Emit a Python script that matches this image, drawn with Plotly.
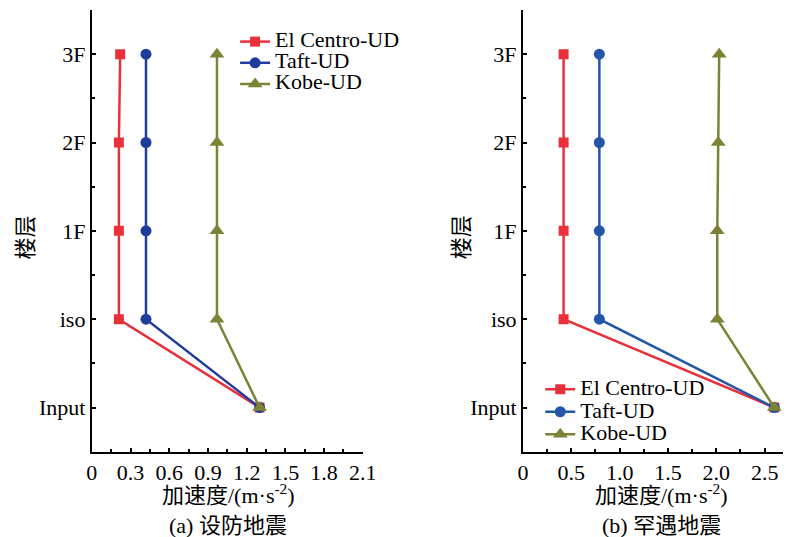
import plotly.graph_objects as go

floors = ["Input", "iso", "1F", "2F", "3F"]
floor_pos = [0, 1, 2, 3, 4]

series_names = ["El Centro-UD", "Taft-UD", "Kobe-UD"]

# (a) design-basis earthquake
a_elcentro = [1.30, 0.21, 0.21, 0.21, 0.22]
a_taft = [1.30, 0.42, 0.42, 0.42, 0.42]
a_kobe = [1.30, 0.97, 0.97, 0.97, 0.97]

# (b) rare earthquake
b_elcentro = [2.60, 0.42, 0.42, 0.42, 0.42]
b_taft = [2.60, 0.79, 0.79, 0.79, 0.79]
b_kobe = [2.60, 2.01, 2.01, 2.02, 2.03]

a_xticks = [0, 0.3, 0.6, 0.9, 1.2, 1.5, 1.8, 2.1]
a_xtext = ["0", "0.3", "0.6", "0.9", "1.2", "1.5", "1.8", "2.1"]
b_xticks = [0, 0.5, 1.0, 1.5, 2.0, 2.5]
b_xtext = ["0", "0.5", "1.0", "1.5", "2.0", "2.5"]

RED = "#E8313B"
BLUE_A = "#1F3C9C"
BLUE_B = "#2256A8"
OLIVE = "#7E8234"
FONT = "'Liberation Serif', 'Times New Roman', Tinos, serif, 'Noto Sans CJK SC'"
FS = 22

fig = go.Figure()

styles = [("square", 10), ("circle", 11), ("triangle-up", 13)]

def add_panel(vals, blue, xa, ya, legend):
    colors = [RED, blue, OLIVE]
    for name, v, c, (sym, sz) in zip(series_names, vals, colors, styles):
        fig.add_trace(go.Scatter(
            x=v, y=floor_pos, mode="lines+markers",
            name="<span style='font-size:%dpx'>%s</span>" % (FS, name),
            line=dict(color=c, width=2.5),
            marker=dict(symbol=sym, size=sz, color=c),
            xaxis=xa, yaxis=ya, legend=legend,
        ))

add_panel([a_elcentro, a_taft, a_kobe], BLUE_A, "x", "y", "legend")
add_panel([b_elcentro, b_taft, b_kobe], BLUE_B, "x2", "y2", "legend2")

ydom = [(537 - 451.7) / 537, (537 - 10) / 537]

common_x = dict(
    showline=True, linecolor="black", linewidth=2, mirror=False,
    ticks="inside", ticklen=4, tickwidth=1.5, tickcolor="black",
    showgrid=False, zeroline=False,
    tickfont=dict(family=FONT, size=FS, color="black"),
)
common_y = dict(
    showline=True, linecolor="black", linewidth=2, mirror=False,
    ticks="inside", ticklen=4, tickwidth=1.5, tickcolor="black",
    showgrid=False, zeroline=False, range=[-0.5, 4.5],
    tickvals=floor_pos, ticktext=floors,
    minor=dict(tickvals=[0.5, 1.5, 2.5, 3.5, 4.5], ticks="inside", ticklen=3,
               tickwidth=1.5, tickcolor="black", showgrid=False),
    tickfont=dict(family=FONT, size=FS, color="black"),
)

fig.update_layout(
    width=797, height=537, autosize=False,
    margin=dict(l=0, r=0, t=0, b=0),
    paper_bgcolor="white", plot_bgcolor="white",
    font=dict(family=FONT, size=FS, color="black"),
    xaxis=dict(domain=[88 / 797, 366 / 797], range=[0, 2.1],
               tickvals=a_xticks, ticktext=a_xtext,
               minor=dict(dtick=0.15, tick0=0, ticks="inside", ticklen=3,
                          tickwidth=1.5, tickcolor="black", showgrid=False),
               anchor="y", **common_x),
    yaxis=dict(domain=ydom, anchor="x", **common_y),
    xaxis2=dict(domain=[530.3 / 797, 1.0], range=[0, 2.69],
                tickvals=b_xticks, ticktext=b_xtext,
                minor=dict(dtick=0.25, tick0=0, ticks="inside", ticklen=3,
                           tickwidth=1.5, tickcolor="black", showgrid=False),
                anchor="y2", **common_x),
    yaxis2=dict(domain=ydom, anchor="x2", **common_y),
    legend=dict(x=235 / 797, y=(537 - 26) / 537, xanchor="left", yanchor="top",
                bgcolor="rgba(0,0,0,0)", font=dict(family=FONT, size=14),
                tracegroupgap=0, itemwidth=30),
    legend2=dict(x=548 / 797, y=(537 - 373) / 537, xanchor="left", yanchor="top",
                 bgcolor="rgba(0,0,0,0)", font=dict(family=FONT, size=15),
                 tracegroupgap=0, itemwidth=30),
)

annotations = [
    dict(x=20 / 797, y=(537 - 237) / 537, text="楼层", textangle=-90),
    dict(x=467 / 797, y=(537 - 237) / 537, text="楼层", textangle=-90),
    dict(x=228 / 797, y=(537 - 494) / 537, text="加速度/(m·s<sup>-2</sup>)"),
    dict(x=672 / 797, y=(537 - 494) / 537, text="加速度/(m·s<sup>-2</sup>)"),
    dict(x=228 / 797, y=(537 - 525) / 537, text="(a) 设防地震"),
    dict(x=672 / 797, y=(537 - 525) / 537, text="(b) 罕遇地震"),
]
for a in annotations:
    fig.add_annotation(xref="paper", yref="paper", showarrow=False,
                       xanchor="center", yanchor="middle",
                       font=dict(family=FONT, size=FS, color="black"), **a)

fig.write_html(
    "out.html",
    config={"displayModeBar": False, "responsive": False},
    post_script=("document.documentElement.style.overflow='hidden';"
                 "document.body.style.margin='0px';"
                 "document.body.style.overflow='hidden';"),
)
